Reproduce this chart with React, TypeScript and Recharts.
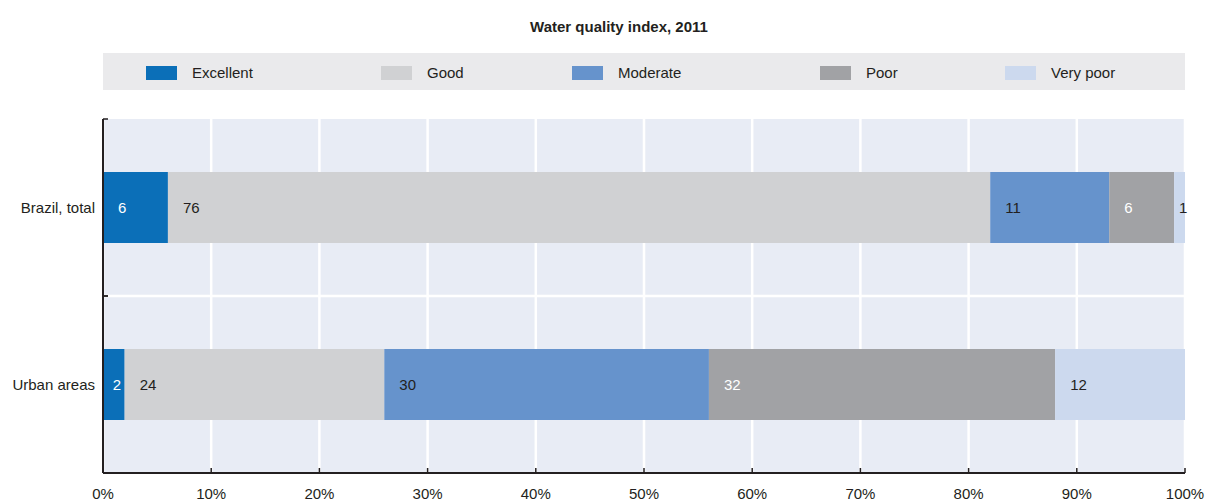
import React from "react";
import {
  Bar,
  BarChart,
  CartesianGrid,
  LabelList,
  ReferenceLine,
  XAxis,
  YAxis,
} from "recharts";

const categories = ["Brazil, total", "Urban areas"];
const excellent = [6, 2];
const good = [76, 24];
const moderate = [11, 30];
const poor = [6, 32];
const veryPoor = [1, 12];
const xTicks = [0, 10, 20, 30, 40, 50, 60, 70, 80, 90, 100];

const FONT = '"Liberation Sans Narrow", "Arial Narrow", "Liberation Sans", Arial, sans-serif';
const INK = "#231f20";
const FS = 15;

const series = [
  { key: "excellent", name: "Excellent", color: "#0b6fb8", labelColor: "#ffffff", legendLeft: 43 },
  { key: "good", name: "Good", color: "#d0d1d3", labelColor: INK, legendLeft: 278 },
  { key: "moderate", name: "Moderate", color: "#6693cc", labelColor: INK, legendLeft: 469 },
  { key: "poor", name: "Poor", color: "#a1a2a5", labelColor: "#ffffff", legendLeft: 717 },
  { key: "veryPoor", name: "Very poor", color: "#ccd9ee", labelColor: INK, legendLeft: 902 },
];

const data = categories.map((name, i) => ({
  name,
  excellent: excellent[i],
  good: good[i],
  moderate: moderate[i],
  poor: poor[i],
  veryPoor: veryPoor[i],
}));

const TICK_SIZE = 5;
const X_TICK_MARGIN = 16;
const Y_TICK_MARGIN = 8;

const XTick = ({ x, y, payload }: any) => {
  const axisY = y - X_TICK_MARGIN;
  return (
    <g>
      <line x1={x} x2={x} y1={axisY} y2={axisY - TICK_SIZE} stroke={INK} strokeWidth={1.5} />
      <text x={x} y={y} dy={10} textAnchor="middle" fontFamily={FONT} fontSize={FS} fill={INK}>
        {`${payload.value}%`}
      </text>
    </g>
  );
};

// category label plus inward tick marks at the band edges
const YTick = ({ x, y, payload }: any) => {
  const axisX = x + Y_TICK_MARGIN;
  const half = payload.offset || 0;
  return (
    <g>
      <line x1={axisX} x2={axisX + TICK_SIZE} y1={y - half} y2={y - half} stroke={INK} strokeWidth={1.5} />
      <line x1={axisX} x2={axisX + TICK_SIZE} y1={y + half} y2={y + half} stroke={INK} strokeWidth={1.5} />
      <text x={x} y={y} dy={5} textAnchor="end" fontFamily={FONT} fontSize={FS} fill={INK}>
        {payload.value}
      </text>
    </g>
  );
};

const makeLabel = (color: string) => (props: any) => {
  const { x, y, width, height, value } = props;
  if (!value) return null;
  const pad = Math.min(15, width * 0.45);
  return (
    <text x={x + pad} y={y + height / 2} dy={5} fontFamily={FONT} fontSize={FS} fill={color}>
      {value}
    </text>
  );
};

export default function App() {
  return (
    <div
      style={{
        position: "absolute",
        left: 0,
        top: 0,
        width: 1206,
        height: 504,
        background: "#ffffff",
        fontFamily: FONT,
      }}
    >
      <div
        style={{
          position: "absolute",
          left: 0,
          width: 1238,
          top: 18,
          textAlign: "center",
          fontWeight: "bold",
          fontSize: FS,
          color: INK,
        }}
      >
        Water quality index, 2011
      </div>

      <div
        style={{
          position: "absolute",
          left: 103,
          top: 53,
          width: 1082,
          height: 37,
          background: "#eaeaec",
        }}
      >
        {series.map((s) => (
          <div
            key={s.key}
            style={{
              position: "absolute",
              left: s.legendLeft,
              top: 11,
              display: "flex",
              alignItems: "center",
              fontSize: FS,
              lineHeight: "17px",
              color: INK,
            }}
          >
            <span
              style={{
                display: "inline-block",
                width: 31,
                height: 14,
                background: s.color,
                marginRight: 15,
              }}
            />
            {s.name}
          </div>
        ))}
      </div>

      <div style={{ position: "absolute", left: 0, top: 0 }}>
        <BarChart
          width={1206}
          height={504}
          data={data}
          layout="vertical"
          margin={{ top: 119, right: 21, bottom: 0, left: 0 }}
        >
          <CartesianGrid fill="#e8ecf5" stroke="#ffffff" strokeWidth={2.5} horizontal={false} />
          {categories.slice(1).map((c) => (
            <ReferenceLine key={c} y={c} position="start" stroke="#ffffff" strokeWidth={2.5} />
          ))}
          <XAxis
            type="number"
            domain={[0, 100]}
            ticks={xTicks}
            interval={0}
            height={31}
            tickLine={false}
            tickSize={0}
            tickMargin={X_TICK_MARGIN}
            axisLine={{ stroke: INK, strokeWidth: 2 }}
            tick={<XTick />}
          />
          <YAxis
            type="category"
            dataKey="name"
            width={103}
            tickLine={false}
            tickSize={0}
            tickMargin={Y_TICK_MARGIN}
            axisLine={{ stroke: INK, strokeWidth: 2 }}
            tick={<YTick />}
          />
          {series.map((s) => (
            <Bar
              key={s.key}
              dataKey={s.key}
              name={s.name}
              stackId="a"
              fill={s.color}
              barSize={71}
              isAnimationActive={false}
            >
              <LabelList dataKey={s.key} content={makeLabel(s.labelColor)} />
            </Bar>
          ))}
        </BarChart>
      </div>
    </div>
  );
}
